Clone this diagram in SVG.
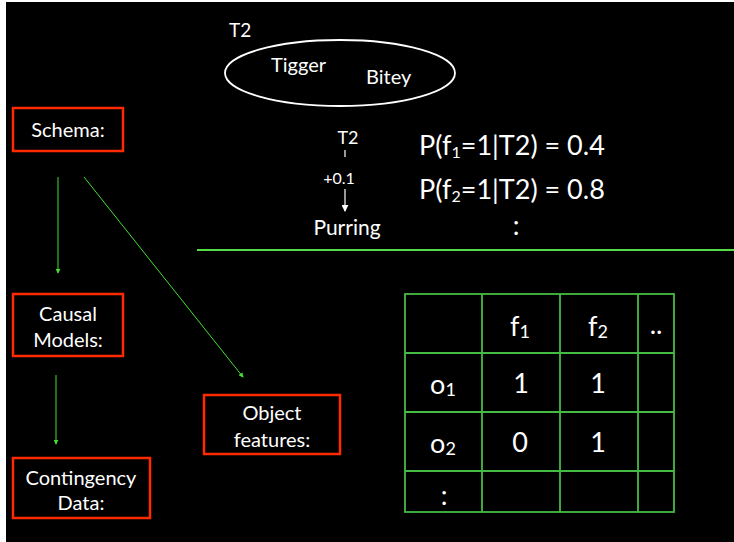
<svg xmlns="http://www.w3.org/2000/svg" width="734" height="542" viewBox="0 0 734 542">
<defs>
<style>
text{font-family:Lato,"Liberation Sans",sans-serif;fill:#ffffff}
.box{fill:#000;stroke:#ff2a00;stroke-width:2.5}
.lbl{font-size:20px;text-anchor:middle}
.conn{stroke:#44dd33;stroke-width:1;fill:none}
.grid{stroke:#44bb44;stroke-width:1.8;fill:none}
.cell{font-size:27px;text-anchor:middle}
.eq{font-size:27px}
</style>
<marker id="ga" viewBox="0 0 6 6" refX="5" refY="3" markerWidth="5" markerHeight="5" orient="auto" markerUnits="userSpaceOnUse">
<path d="M0,0 L6,3 L0,6 z" fill="#44dd33"/>
</marker>
<marker id="wa" viewBox="0 0 8 8" refX="7" refY="4" markerWidth="7" markerHeight="7" orient="auto" markerUnits="userSpaceOnUse">
<path d="M0,0 L8,4 L0,8 z" fill="#ffffff"/>
</marker>
</defs>
<rect x="0" y="0" width="734" height="542" fill="#ffffff"/>
<rect x="6" y="2" width="728" height="540" fill="#000000"/>

<g id="t2-cluster">
<text x="229" y="37" font-size="19">T2</text>
<ellipse cx="340" cy="73" rx="115" ry="33" fill="none" stroke="#ffffff" stroke-width="1.8"/>
<text x="271" y="72" font-size="20">Tigger</text>
<text x="366" y="84" font-size="20">Bitey</text>
</g>

<g id="causal-model">
<text x="348" y="144" font-size="18" text-anchor="middle">T2</text>
<text x="339" y="184" font-size="16" text-anchor="middle">+0.1</text>
<text x="347" y="235" font-size="21" text-anchor="middle">Purring</text>
</g>

<g id="probabilities">
<text x="419" y="155" class="eq">P(f<tspan font-size="16" dy="3">1</tspan><tspan dy="-3">=1|T2) = 0.4</tspan></text>
<text x="419" y="199" class="eq">P(f<tspan font-size="16" dy="3">2</tspan><tspan dy="-3">=1|T2) = 0.8</tspan></text>
<text x="516" y="235" class="eq" text-anchor="middle">:</text>
</g>

<g id="schema">
<rect class="box" x="13" y="108" width="110" height="43"/>
<text class="lbl" x="68" y="137">Schema:</text>
</g>
<g id="causal-models">
<rect class="box" x="13" y="294" width="110" height="62"/>
<text class="lbl" x="68" y="321">Causal</text>
<text class="lbl" x="68" y="347">Models:</text>
</g>
<g id="contingency-data">
<rect class="box" x="13" y="458" width="137" height="60"/>
<text class="lbl" x="81" y="485" font-size="21">Contingency</text>
<text class="lbl" x="81" y="510" font-size="21">Data:</text>
</g>
<g id="object-features">
<rect class="box" x="204" y="395" width="136" height="59"/>
<text class="lbl" x="272" y="420">Object</text>
<text class="lbl" x="272" y="447">features:</text>
</g>

<g id="table">
<rect class="grid" x="405" y="294" width="269" height="218"/>
<line class="grid" x1="482" y1="294" x2="482" y2="512"/>
<line class="grid" x1="560" y1="294" x2="560" y2="512"/>
<line class="grid" x1="638" y1="294" x2="638" y2="512"/>
<line class="grid" x1="405" y1="353" x2="674" y2="353"/>
<line class="grid" x1="405" y1="412" x2="674" y2="412"/>
<line class="grid" x1="405" y1="471" x2="674" y2="471"/>
<text class="cell" x="520" y="336">f<tspan font-size="18" dy="2">1</tspan></text>
<text class="cell" x="598" y="336">f<tspan font-size="18" dy="2">2</tspan></text>
<text class="cell" x="656" y="334">..</text>
<text class="cell" x="443" y="394">o<tspan font-size="18" dy="2">1</tspan></text>
<text class="cell" x="521" y="393">1</text>
<text class="cell" x="598" y="393">1</text>
<text class="cell" x="443" y="453">o<tspan font-size="18" dy="2">2</tspan></text>
<text class="cell" x="520" y="452">0</text>
<text class="cell" x="598" y="452">1</text>
<text class="cell" x="444" y="505">:</text>
</g>

<g id="connectors">
<line x1="197" y1="250" x2="734" y2="250" stroke="#55dd44" stroke-width="2"/>
<line class="conn" x1="58" y1="177" x2="58" y2="273" marker-end="url(#ga)"/>
<line class="conn" x1="56" y1="375" x2="56" y2="444" marker-end="url(#ga)"/>
<line class="conn" x1="84" y1="177" x2="243" y2="377" marker-end="url(#ga)"/>
<line x1="345" y1="150" x2="345" y2="157" stroke="#ffffff" stroke-width="1.2"/>
<line x1="345" y1="189" x2="345" y2="211" stroke="#ffffff" stroke-width="1.2" marker-end="url(#wa)"/>
</g>
</svg>
